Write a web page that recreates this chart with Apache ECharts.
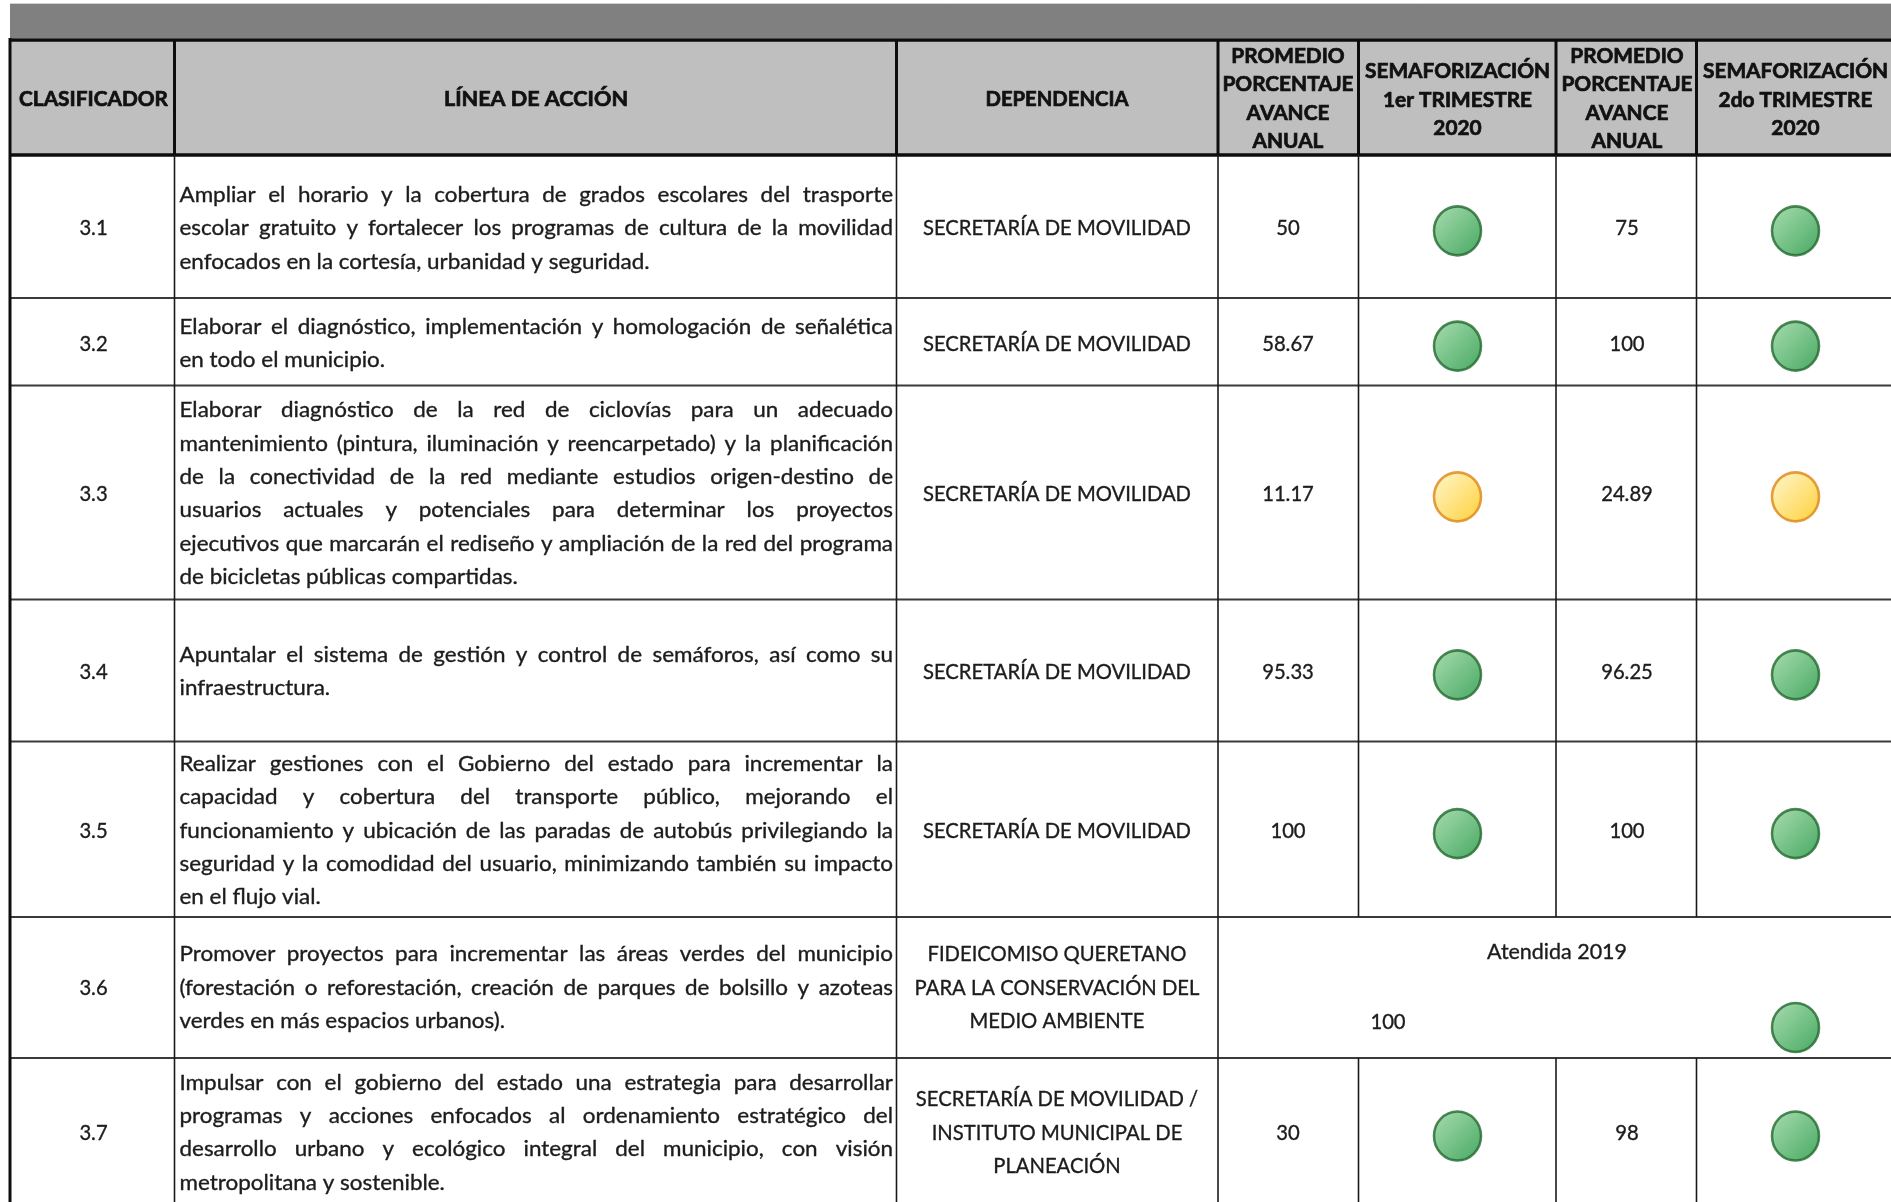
<!DOCTYPE html>
<html><head><meta charset="utf-8">
<style>html,body{margin:0;padding:0;background:#fff}#c{width:1891px;height:1202px}</style>
<script src="https://cdn.jsdelivr.net/npm/echarts@6/dist/echarts.min.js"></script>
</head><body><div id="c"></div>
<script>
// ---- data ----
const clasificador = ['3.1','3.2','3.3','3.4','3.5','3.6','3.7'];
const lineaDeAccion = [
 ['Ampliar el horario y la cobertura de grados escolares del trasporte','escolar gratuito y fortalecer los programas de cultura de la movilidad','enfocados en la cortesía, urbanidad y seguridad.'],
 ['Elaborar el diagnóstico, implementación y homologación de señalética','en todo el municipio.'],
 ['Elaborar diagnóstico de la red de ciclovías para un adecuado','mantenimiento (pintura, iluminación y reencarpetado) y la planificación','de la conectividad de la red mediante estudios origen-destino de','usuarios actuales y potenciales para determinar los proyectos','ejecutivos que marcarán el rediseño y ampliación de la red del programa','de bicicletas públicas compartidas.'],
 ['Apuntalar el sistema de gestión y control de semáforos, así como su','infraestructura.'],
 ['Realizar gestiones con el Gobierno del estado para incrementar la','capacidad y cobertura del transporte público, mejorando el','funcionamiento y ubicación de las paradas de autobús privilegiando la','seguridad y la comodidad del usuario, minimizando también su impacto','en el flujo vial.'],
 ['Promover proyectos para incrementar las áreas verdes del municipio','(forestación o reforestación, creación de parques de bolsillo y azoteas','verdes en más espacios urbanos).'],
 ['Impulsar con el gobierno del estado una estrategia para desarrollar','programas y acciones enfocados al ordenamiento estratégico del','desarrollo urbano y ecológico integral del municipio, con visión','metropolitana y sostenible.']
];
const dependencia = [
 ['SECRETARÍA DE MOVILIDAD'],['SECRETARÍA DE MOVILIDAD'],['SECRETARÍA DE MOVILIDAD'],['SECRETARÍA DE MOVILIDAD'],['SECRETARÍA DE MOVILIDAD'],
 ['FIDEICOMISO QUERETANO','PARA LA CONSERVACIÓN DEL','MEDIO AMBIENTE'],
 ['SECRETARÍA DE MOVILIDAD /','INSTITUTO MUNICIPAL DE','PLANEACIÓN']
];
const promedio1 = ['50','58.67','11.17','95.33','100',null,'30'];
const semaforo1 = ['verde','verde','amarillo','verde','verde',null,'verde'];
const promedio2 = ['75','100','24.89','96.25','100',null,'98'];
const semaforo2 = ['verde','verde','amarillo','verde','verde','verde','verde'];
const notaFila6 = 'Atendida 2019';
const promedioFila6 = '100';
const encabezados = [
 ['CLASIFICADOR'],['LÍNEA DE ACCIÓN'],['DEPENDENCIA'],
 ['PROMEDIO','PORCENTAJE','AVANCE','ANUAL'],['SEMAFORIZACIÓN','1er TRIMESTRE','2020'],
 ['PROMEDIO','PORCENTAJE','AVANCE','ANUAL'],['SEMAFORIZACIÓN','2do TRIMESTRE','2020']
];
// ---- layout ----
const W = 1891, H = 1202;
const colX = [10,174.5,896.5,1218,1358.5,1556,1696.5,1891];
const colC = [93.5,536,1057,1288,1457.5,1627,1795.5];
const rowY = [155,298,385.5,599.5,741.5,917,1058,1208];
const rowTextShift = [2.1,2.0,1.5,1.5,1.5,0.5,0];
const headTop = 40;
const BODY = {font:'21px Lato', sx:1, lh:33.4, color:'#1c1c1c', bw:0.35};
const PROSE = {font:'21px Lato', sx:1, lh:33.4, color:'#1c1c1c', bw:0.35};
const NOTE = {font:'21px Lato', sx:1, lh:33.4, color:'#1c1c1c', bw:0.35};
const HEAD = {font:'bold 20px Lato', sx:1, lh:28.4, color:'#111', bw:0.7};
const HEADWIDE = {font:'bold 20px Lato', sx:1, lh:28.4, color:'#111', bw:0.7};
const HEADNARROW = {font:'bold 20px Lato', sx:1, lh:28.4, color:'#111', bw:0.7};
const ctx = document.createElement('canvas').getContext('2d');
function tw(s, st){ ctx.font = st.font; return ctx.measureText(s).width * st.sx; }
// fit horizontal scale of each text class to a width measured on the reference
HEAD.sx = 185 / tw('SEMAFORIZACIÓN', HEAD);
HEADWIDE.sx = 184 / tw('LÍNEA DE ACCIÓN', HEADWIDE);
HEADNARROW.sx = 143 / tw('DEPENDENCIA', HEADNARROW);
BODY.sx = 268 / tw('SECRETARÍA DE MOVILIDAD', BODY);
PROSE.sx = 470 / tw('enfocados en la cortesía, urbanidad y seguridad.', PROSE);
NOTE.sx = 140 / tw(notaFila6, NOTE);

const rects = [
 {x:10,y:4,w:W-10,h:34,c:'#808080'},
 {x:10,y:headTop,w:W-10,h:rowY[0]-headTop,c:'#BFBFBF'}
];
const lines = [];
const Lthick='#0d0d0d', Lrow='#3a3a3a', Lv='#1a1a1a';
lines.push([10,3.5,W,3.5,1,'#d0d0d0']);
lines.push([10,headTop,W,headTop,3.5,Lthick]);
lines.push([10,rowY[0],W,rowY[0],3.5,Lthick]);
for(let r=1;r<7;r++) lines.push([10,rowY[r],W,rowY[r],2,Lrow]);
lines.push([10,headTop-2,10,H,3,Lthick]);
for(let c=1;c<7;c++){
  lines.push([colX[c],headTop,colX[c],rowY[0],3,Lthick]);
  if(c<=3){ lines.push([colX[c],rowY[0],colX[c],H,1.6,Lv]); }
  else {
    lines.push([colX[c],rowY[0],colX[c],rowY[5],1.6,Lv]);
    lines.push([colX[c],rowY[6],colX[c],H,1.6,Lv]);
  }
}
const texts = [];
function put(s,x,y,st,align){ texts.push({value:[x,y],s,st,align}); }
function centre(s,x,y,st){ put(s,x,y,st,'center'); }
function rowMid(r){ return (rowY[r]+rowY[r+1])/2; }
// header
const headY = [[100],[100],[100],[56.5,85,113.3,141.4],[71.7,100.3,129],[56.5,85,113.3,141.4],[71.7,100.3,129]];
const headStyle = [HEAD,HEADWIDE,HEADNARROW,HEAD,HEAD,HEAD,HEAD];
encabezados.forEach((ls,c)=>ls.forEach((s,i)=>centre(s,colC[c],headY[c][i],headStyle[c])));
// body
const LX=179.5, RX=893;
clasificador.forEach((s,r)=>{
  const ym=(r===6?1133:rowMid(r)+rowTextShift[r]);
  centre(s,colC[0],ym,BODY);
  const ls=lineaDeAccion[r], y0=ym-(ls.length-1)*PROSE.lh/2;
  ls.forEach((line,i)=>{
    const words=line.split(' '), y=y0+i*PROSE.lh;
    const ww=words.map(w=>tw(w,PROSE)), sum=ww.reduce((a,b)=>a+b,0);
    const gap=(i<ls.length-1)?(RX-LX-sum)/(words.length-1):tw(' ',PROSE);
    let x=LX;
    words.forEach((w,k)=>{ put(w,x,y,PROSE,'left'); x+=ww[k]+gap; });
  });
  const ds=dependencia[r], yd=ym-(ds.length-1)*BODY.lh/2;
  ds.forEach((d,i)=>centre(d,colC[2],yd+i*BODY.lh,BODY));
  if(promedio1[r]!==null) centre(promedio1[r],colC[3],ym,BODY);
  if(promedio2[r]!==null) centre(promedio2[r],colC[5],ym,BODY);
});
centre(notaFila6,1557,952,NOTE);
centre(promedioFila6,1388,1022.5,BODY);

const puntos = [];
[[semaforo1,colC[4]],[semaforo2,colC[6]]].forEach(([arr,x])=>arr.forEach((v,r)=>{
  if(!v) return;
  const y = r===5?1027.5:(r===6?1136:rowMid(r)+4.3);
  const verde = v==='verde';
  puntos.push({value:[x,y],itemStyle:{
    color:new echarts.graphic.LinearGradient(0,0,1,1,verde
      ?[{offset:0.15,color:'#82CB8F'},{offset:0.85,color:'#2A9C48'}]
      :[{offset:0.15,color:'#FFEFA8'},{offset:0.85,color:'#FFCB22'}]),
    borderColor:verde?'#23692F':'#DE8414',borderWidth:2.6}});
}));

const chart = echarts.init(document.getElementById('c'),null,{renderer:'canvas',width:W,height:H});
chart.setOption({
 animation:false,
 grid:{left:0,right:0,top:0,bottom:0},
 xAxis:{type:'value',min:0,max:W,show:false},
 yAxis:{type:'value',min:0,max:H,inverse:true,show:false},
 tooltip:{show:false},
 series:[
  {type:'custom',name:'celdas',silent:true,clip:true,z:1,
   data:rects.map(r=>[r.x,r.y,r.w,r.h]),encode:{x:0,y:1},
   renderItem(p,api){
     const a=api.coord([api.value(0),api.value(1)]),b=api.coord([api.value(0)+api.value(2),api.value(1)+api.value(3)]);
     return {type:'rect',shape:{x:a[0],y:a[1],width:b[0]-a[0],height:b[1]-a[1]},style:{fill:rects[p.dataIndex].c}};
   }},
  {type:'custom',name:'lineas',silent:true,clip:true,z:2,
   data:lines.map(l=>l.slice(0,4)),encode:{x:0,y:1},
   renderItem(p,api){
     const l=lines[p.dataIndex],a=api.coord([l[0],l[1]]),b=api.coord([l[2],l[3]]);
     return {type:'line',shape:{x1:a[0],y1:a[1],x2:b[0],y2:b[1]},style:{stroke:l[5],lineWidth:l[4]}};
   }},
  {type:'scatter',name:'semaforo',silent:true,z:3,symbol:'circle',symbolSize:[47,49],data:puntos},
  {type:'custom',name:'textos',silent:true,clip:false,z:4,
   data:texts.map(t=>({value:t.value})),encode:{x:0,y:1},
   renderItem(p,api){
     const t=texts[p.dataIndex],a=api.coord(t.value);
     return {type:'text',x:a[0],y:a[1],scaleX:t.st.sx,
       style:{x:0,y:0,text:t.s,font:t.st.font,fill:t.st.color,stroke:t.st.color,lineWidth:t.st.bw,align:t.align,verticalAlign:'middle'}};
   }}
 ]
});
</script></body></html>
